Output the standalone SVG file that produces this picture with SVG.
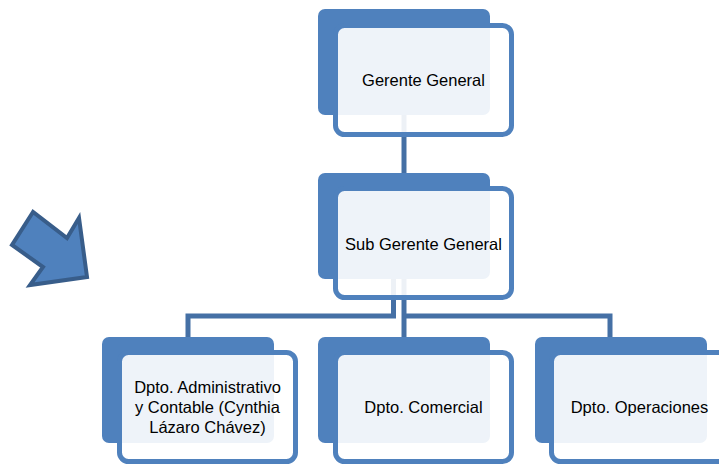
<svg xmlns="http://www.w3.org/2000/svg" width="719" height="465" viewBox="0 0 719 465">
<style>
.back{fill:#4F81BD}
.front{fill:#FFFFFF;fill-opacity:0.9;stroke:#4F81BD;stroke-width:5}
.conn{fill:none;stroke:#4570A5;stroke-width:5}
.lbl{font-family:"Liberation Sans",Arial,sans-serif;font-size:16.5px;fill:#000;text-anchor:middle}
</style>
<rect width="719" height="465" fill="#FFFFFF"/>
<g id="arrow">
<polygon points="33,212 12,245 43,267 30,285 87,277 79,218 67,238" fill="#4F81BD" stroke="#385D8A" stroke-width="4" stroke-linejoin="miter"/>
</g>
<g id="connectors">
<path class="conn" d="M404,115 V173"/>
<path class="conn" d="M393.5,279 V316 H188 V337"/>
<path class="conn" d="M404,279 V337"/>
<path class="conn" d="M404,316 H610 V337"/>
</g>
<g id="node-gerente">
<rect class="back" x="318" y="9" width="172" height="106" rx="7"/>
<rect class="front" x="335.5" y="25.5" width="176" height="109" rx="9"/>
<text class="lbl" x="423.5" y="86">Gerente General</text>
</g>
<g id="node-subgerente">
<rect class="back" x="318" y="173" width="172" height="106" rx="7"/>
<rect class="front" x="335.5" y="188.5" width="176" height="109" rx="9"/>
<text class="lbl" x="423.5" y="250">Sub Gerente General</text>
</g>
<g id="node-administrativo">
<rect class="back" x="102" y="337" width="172" height="106" rx="7"/>
<rect class="front" x="119.5" y="352.5" width="176" height="109" rx="9"/>
<text class="lbl" x="207.5" y="393">Dpto. Administrativo</text>
<text class="lbl" x="207.5" y="413">y Contable (Cynthia</text>
<text class="lbl" x="207.5" y="433">Lázaro Chávez)</text>
</g>
<g id="node-comercial">
<rect class="back" x="318" y="337" width="172" height="106" rx="7"/>
<rect class="front" x="335.5" y="352.5" width="176" height="109" rx="9"/>
<text class="lbl" x="423.5" y="413">Dpto. Comercial</text>
</g>
<g id="node-operaciones">
<rect class="back" x="535" y="337" width="172" height="106" rx="7"/>
<rect class="front" x="551.5" y="352.5" width="176" height="109" rx="9"/>
<text class="lbl" x="639.5" y="413">Dpto. Operaciones</text>
</g>
</svg>
